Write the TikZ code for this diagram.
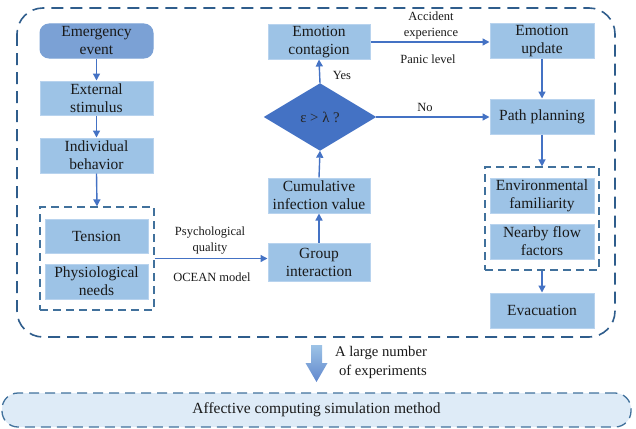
\documentclass[tikz,border=0pt]{standalone}
\usepackage{fontspec}
\setmainfont{Liberation Serif}
\usetikzlibrary{arrows.meta}
\definecolor{boxfill}{HTML}{9DC3E6}
\definecolor{boxline}{HTML}{B8D3EE}
\definecolor{evfill}{HTML}{7BA1D5}
\definecolor{arr}{HTML}{4472C4}
\definecolor{dashdark}{HTML}{2F5D8C}
\definecolor{dashmid}{HTML}{41719C}
\definecolor{bottomfill}{HTML}{DEEBF7}
\tikzset{
  box/.style={rectangle, fill=boxfill, draw=boxline, line width=1pt, inner sep=0pt,
    align=center, text=black!90, font=\rmfamily\fontsize{15.5}{18}\selectfont},
  lbl/.style={inner sep=0pt, align=center, text=black!90, font=\rmfamily\fontsize{12.5}{16}\selectfont},
  conn/.style={draw=arr, line width=1.4pt, -{Triangle[length=7pt,width=7pt]}},
  grpbox/.style={rectangle, draw=dashmid, line width=1.2pt, dash pattern=on 8pt off 5pt, inner sep=0pt},
}
\begin{document}
\begin{tikzpicture}[x=1pt,y=-1pt]
\useasboundingbox (0,0) rectangle (636,428);
% outer dashed frame
\draw[draw=dashdark, line width=1.6pt, dash pattern=on 12pt off 7pt, rounded corners=26pt] (17,8) rectangle (615,337);
% left column
\node[box, fill=evfill, draw=evfill, rounded corners=9pt, minimum width=113pt, minimum height=34pt] (emerg) at (96.5,41) {Emergency\\event};
\node[box, minimum width=113pt, minimum height=34pt] (ext) at (96.5,98) {External\\stimulus};
\node[box, minimum width=113pt, minimum height=35pt] (indiv) at (96.5,155.5) {Individual\\behavior};
\node[grpbox, minimum width=114pt, minimum height=103pt] (grp1) at (97,258.5) {};
\node[box, minimum width=103pt, minimum height=34pt] (tension) at (96.5,236) {Tension};
\node[box, minimum width=103pt, minimum height=35pt] (physio) at (96.5,281.5) {Physiological\\needs};
% middle column
\node[box, minimum width=102pt, minimum height=38pt] (group) at (319,262) {Group\\interaction};
\node[box, minimum width=102pt, minimum height=35pt] (cumul) at (319,195.5) {Cumulative\\infection value};
\node[minimum width=112pt, minimum height=67pt, inner sep=0pt] (dia) at (320,117) {};
\fill[arr] (dia.north) -- (dia.east) -- (dia.south) -- (dia.west) -- cycle;
\node[inner sep=0pt, text=black!85, font=\rmfamily\fontsize{14.8}{17}\selectfont] (diatext) at (dia.center) {ε > λ ?};
\node[box, minimum width=102pt, minimum height=34pt] (contag) at (319,42) {Emotion\\contagion};
% right column
\node[box, minimum width=104pt, minimum height=34pt] (update) at (542,41) {Emotion\\update};
\node[box, minimum width=104pt, minimum height=35pt] (path) at (542,116.5) {Path planning};
\node[grpbox, minimum width=114pt, minimum height=103pt] (grp2) at (542,218.5) {};
\node[box, minimum width=104pt, minimum height=35pt] (envfam) at (542,195.5) {Environmental\\familiarity};
\node[box, minimum width=104pt, minimum height=35pt] (nearby) at (542,241.5) {Nearby flow\\factors};
\node[box, minimum width=104pt, minimum height=35pt] (evac) at (542,310.5) {Evacuation};
% connectors
\draw[conn] (emerg.south) -- (ext.north);
\draw[conn] (ext.south) -- (indiv.north);
\draw[conn] (indiv.south) -- (grp1.north);
\draw[conn] (grp1.east) -- (grp1.east -| group.west);
\draw[conn] (group.north) -- (cumul.south);
\draw[conn] (cumul.north) -- (dia.south);
\draw[conn] (dia.north) -- (contag.south);
\draw[conn] (contag.east) -- (contag.east -| update.west);
\draw[conn] (dia.east) -- (dia.east -| path.west);
\draw[conn] (update.south) -- (path.north);
\draw[conn] (path.south) -- (grp2.north);
\draw[conn] (grp2.south) -- (evac.north);
% labels
\node[lbl] (psy) at (210,241) {Psychological\\quality};
\node[lbl] (ocean) at (212,277) {OCEAN model};
\node[lbl] (yes) at (342,75) {Yes};
\node[lbl] (acc) at (431,25) {Accident\\experience};
\node[lbl] (panic) at (428,59) {Panic level};
\node[lbl] (no) at (425,107) {No};
% big arrow
\shade[top color=boxfill, bottom color=arr!85] (311,345) -- (322,345) -- (322,363) -- (327.5,363) -- (316.5,382) -- (305.5,363) -- (311,363) -- cycle;
\node[inner sep=0pt, align=left, text=black!90, font=\rmfamily\fontsize{14.7}{19}\selectfont] (many) at (381,362) {A large number\\\hspace*{4pt}of experiments};
% bottom
\node[rectangle, fill=bottomfill, draw=dashmid, line width=1.3pt, dash pattern=on 10pt off 6pt, rounded corners=16pt, minimum width=629pt, minimum height=34pt, inner sep=0pt, text=black!90, font=\rmfamily\fontsize{15.5}{18}\selectfont] (method) at (316.5,410) {Affective computing simulation method};
\end{tikzpicture}
\end{document}
